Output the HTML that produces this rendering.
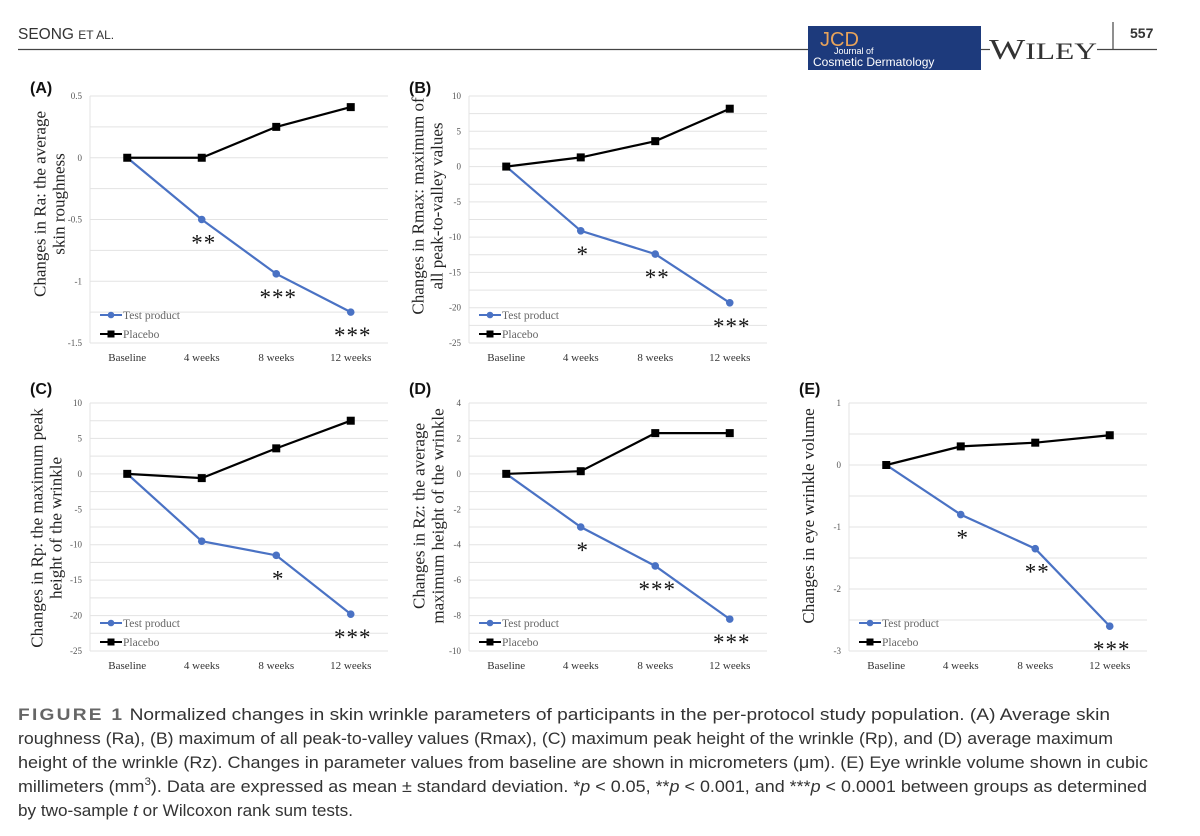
<!DOCTYPE html>
<html><head><meta charset="utf-8"><style>
html,body{margin:0;padding:0;background:#fff;width:1200px;height:836px;overflow:hidden}
svg{display:block}
.ser{font-family:"Liberation Serif",serif}
.sans{font-family:"Liberation Sans",sans-serif}
</style></head><body>
<svg id="root" width="1200" height="836" viewBox="0 0 1200 836">
  <g>
    <text x="18" y="39" class="sans" font-size="15.5" fill="#333">SEONG <tspan font-size="12">ET AL.</tspan></text>
    <line x1="18" y1="49.5" x2="808" y2="49.5" stroke="#444" stroke-width="1.2"/>
    <rect x="808" y="26" width="173" height="44" fill="#1d3a7c"/>
    <text x="820" y="46" class="sans" font-size="20" fill="#e8a35a">JCD</text>
    <text x="834" y="54" class="sans" font-size="9" fill="#fff">Journal of</text>
    <text x="813" y="66" class="sans" font-size="12" fill="#fff">Cosmetic Dermatology</text>
    <line x1="981" y1="49.5" x2="990" y2="49.5" stroke="#444" stroke-width="1.2"/>
    <text x="989" y="59" class="ser" font-size="28" fill="#333" textLength="108" lengthAdjust="spacingAndGlyphs">W<tspan font-size="23">ILEY</tspan></text>
    <line x1="1097" y1="49.5" x2="1157" y2="49.5" stroke="#444" stroke-width="1.2"/>
    <line x1="1113" y1="22" x2="1113" y2="49" stroke="#444" stroke-width="1.2"/>
    <text x="1130" y="38" class="sans" font-size="14" font-weight="bold" fill="#333">557</text>
  </g>
  <g id="charts"></g>
  <g class="sans" font-size="17" fill="#333">
    <text x="18" y="720" textLength="1092" lengthAdjust="spacingAndGlyphs"><tspan font-weight="bold" fill="#666" letter-spacing="2">FIGURE 1</tspan>   Normalized changes in skin wrinkle parameters of participants in the per-protocol study population. (A) Average skin</text>
    <text x="18" y="744" textLength="1095" lengthAdjust="spacingAndGlyphs">roughness (Ra), (B) maximum of all peak-to-valley values (Rmax), (C) maximum peak height of the wrinkle (Rp), and (D) average maximum</text>
    <text x="18" y="768" textLength="1130" lengthAdjust="spacingAndGlyphs">height of the wrinkle (Rz). Changes in parameter values from baseline are shown in micrometers (μm). (E) Eye wrinkle volume shown in cubic</text>
    <text x="18" y="792" textLength="1129" lengthAdjust="spacingAndGlyphs">millimeters (mm<tspan font-size="11" dy="-7">3</tspan><tspan dy="7">). Data are expressed as mean ± standard deviation. *</tspan><tspan font-style="italic">p</tspan> &lt; 0.05, **<tspan font-style="italic">p</tspan> &lt; 0.001, and ***<tspan font-style="italic">p</tspan> &lt; 0.0001 between groups as determined</text>
    <text x="18" y="816" textLength="335" lengthAdjust="spacingAndGlyphs">by two-sample <tspan font-style="italic">t</tspan> or Wilcoxon rank sum tests.</text>
  </g>
</svg>
<script>
const categories = ["Baseline","4 weeks","8 weeks","12 weeks"];
const testA = [0,-0.5,-0.94,-1.25];
const placeboA = [0,0,0.25,0.41];
const sigA = ["","**","***","***"];
const testB = [0,-9.1,-12.4,-19.3];
const placeboB = [0,1.3,3.6,8.2];
const sigB = ["","*","**","***"];
const testC = [0,-9.5,-11.5,-19.8];
const placeboC = [0,-0.6,3.6,7.5];
const sigC = ["","","*","***"];
const testD = [0,-3,-5.2,-8.2];
const placeboD = [0,0.15,2.3,2.3];
const sigD = ["","*","***","***"];
const testE = [0,-0.8,-1.35,-2.6];
const placeboE = [0,0.3,0.36,0.48];
const sigE = ["","*","**","***"];
const ticksA = [0.5,0,-0.5,-1,-1.5];
const ticksB = [10,5,0,-5,-10,-15,-20,-25];
const ticksC = [10,5,0,-5,-10,-15,-20,-25];
const ticksD = [4,2,0,-2,-4,-6,-8,-10];
const ticksE = [1,0,-1,-2,-3];

const NS="http://www.w3.org/2000/svg";
const root=document.getElementById('charts');
function mk(tag,attrs,parent){const e=document.createElementNS(NS,tag);for(const k in attrs)e.setAttribute(k,attrs[k]);parent.appendChild(e);return e;}

const panels=[
 {id:'a',label:'(A)',L:90,R:388,T:96,B:343,min:-1.5,max:0.5,grid:0.25,ticks:ticksA,test:testA,plac:placeboA,sig:sigA,title:["Changes in Ra: the average","skin roughness"],tx:49,ty:204,lx:30,ly:93},
 {id:'b',label:'(B)',L:469,R:767,T:96,B:343,min:-25,max:10,grid:2.5,ticks:ticksB,test:testB,plac:placeboB,sig:sigB,title:["Changes in Rmax: maximum of","all peak-to-valley values"],tx:427,ty:206,lx:409,ly:93},
 {id:'c',label:'(C)',L:90,R:388,T:403,B:651,min:-25,max:10,grid:2.5,ticks:ticksC,test:testC,plac:placeboC,sig:sigC,title:["Changes in Rp: the maximum peak","height of the wrinkle"],tx:46,ty:528,lx:30,ly:394},
 {id:'d',label:'(D)',L:469,R:767,T:403,B:651,min:-10,max:4,grid:1,ticks:ticksD,test:testD,plac:placeboD,sig:sigD,title:["Changes in Rz: the average","maximum height of the wrinkle"],tx:428,ty:516,lx:409,ly:394},
 {id:'e',label:'(E)',L:849,R:1147,T:403,B:651,min:-3,max:1,grid:0.5,ticks:ticksE,test:testE,plac:placeboE,sig:sigE,title:["Changes in eye wrinkle volume"],tx:808,ty:516,lx:799,ly:394}
];

panels.forEach(p=>{
  const g=mk('g',{},root);
  
  
  const y=v=>p.T+(p.max-v)/(p.max-p.min)*(p.B-p.T);
  const bw=(p.R-p.L)/categories.length;
  const x=i=>p.L+bw*(i+0.5);
  const n=Math.round((p.max-p.min)/p.grid);
  for(let k=0;k<=n;k++){
    const v=p.max-k*p.grid;
    const gl=mk('line',{x1:p.L,x2:p.R,y1:y(v),y2:y(v),stroke:'#e3e3e3','stroke-width':1},g);
    
    
  }
  mk('line',{x1:p.L,x2:p.L,y1:p.T,y2:p.B,stroke:'#e3e3e3','stroke-width':1},g);
  p.ticks.forEach(t=>{
    const tl=mk('text',{x:p.L-8,y:y(t)+3,'text-anchor':'end','font-size':9,fill:'#555',class:'ser'},g);
    tl.textContent=String(t);
    
    
  });
  categories.forEach((c,i)=>{
    const cl=mk('text',{x:x(i),y:p.B+18,'text-anchor':'middle','font-size':11,fill:'#333',class:'ser'},g);
    cl.textContent=c;
    
    
  });
  const pl=mk('text',{x:p.lx,y:p.ly,'font-size':16,'font-weight':'bold',fill:'#111',class:'sans'},g);
  pl.textContent=p.label;
  
  
  const tt=mk('text',{transform:`translate(${p.tx},${p.ty}) rotate(-90)`,'text-anchor':'middle','font-size':17,fill:'#222',class:'ser'},g);
  
  
  const lines=p.title, lh=19, off=-(lines.length-1)*lh/2+6;
  lines.forEach((l,i)=>{const ts=mk('tspan',{x:0,y:off+i*lh},tt);ts.textContent=l;});
  const pts=arr=>arr.map((v,i)=>x(i)+','+y(v)).join(' ');
  const pline=mk('polyline',{points:pts(p.plac),fill:'none',stroke:'#000','stroke-width':2.2},g);
  
  
  const tline=mk('polyline',{points:pts(p.test),fill:'none',stroke:'#4a72c4','stroke-width':2.2},g);
  
  
  p.plac.forEach((v,i)=>{
    const m=mk('rect',{x:x(i)-4,y:y(v)-4,width:8,height:8,fill:'#000'},g);
    
    
  });
  p.test.forEach((v,i)=>{
    if(i===0)return;
    const m=mk('circle',{cx:x(i),cy:y(v),r:3.8,fill:'#4a72c4'},g);
    
    
  });
  p.sig.forEach((s,i)=>{
    if(!s)return;
    const st=mk('text',{x:x(i)+2,y:y(p.test[i])+31,'text-anchor':'middle','font-size':23,fill:'#111',class:'ser','letter-spacing':1},g);
    st.textContent=s;
    
    
  });
  const lg=mk('g',{},g);
  
  
  const ly1=p.B-28, ly2=p.B-9;
  mk('line',{x1:p.L+10,x2:p.L+32,y1:ly1,y2:ly1,stroke:'#4a72c4','stroke-width':2},lg);
  mk('circle',{cx:p.L+21,cy:ly1,r:3.3,fill:'#4a72c4'},lg);
  const t1=mk('text',{x:p.L+33,y:ly1+4,'font-size':11.5,fill:'#666',class:'ser'},lg);
  t1.textContent='Test product';
  
  
  mk('line',{x1:p.L+10,x2:p.L+32,y1:ly2,y2:ly2,stroke:'#000','stroke-width':2},lg);
  mk('rect',{x:p.L+17.5,y:ly2-3.5,width:7,height:7,fill:'#000'},lg);
  const t2=mk('text',{x:p.L+33,y:ly2+4,'font-size':11.5,fill:'#666',class:'ser'},lg);
  t2.textContent='Placebo';
  
  
});
</script>
</body></html>
